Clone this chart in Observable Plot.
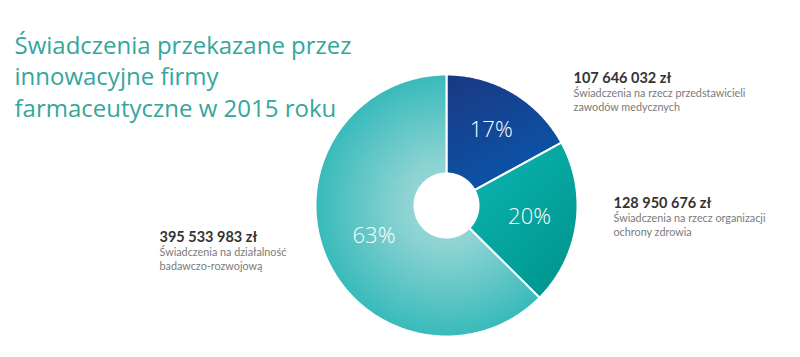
<!DOCTYPE html>
<html><head><meta charset="utf-8">
<script src="https://cdn.jsdelivr.net/npm/d3@7"></script>
<script src="https://cdn.jsdelivr.net/npm/@observablehq/plot@0.6"></script>
<style>body{margin:0;background:#fff;} svg{display:block}</style>
</head><body><div id="chart"></div>
<script>
// ---- data ----
const categories = [
  "Świadczenia na rzecz przedstawicieli zawodów medycznych",
  "Świadczenia na rzecz organizacji ochrony zdrowia",
  "Świadczenia na działalność badawczo-rozwojową"
];
const values = [107646032, 128950676, 395533983];
const amountLabels = ["107 646 032 zł", "128 950 676 zł", "395 533 983 zł"];
const descLines = [
  ["Świadczenia na rzecz przedstawicieli", "zawodów medycznych"],
  ["Świadczenia na rzecz organizacji", "ochrony zdrowia"],
  ["Świadczenia na działalność", "badawczo-rozwojową"]
];
const titleLines = ["Świadczenia przekazane przez", "innowacyjne firmy", "farmaceutyczne w 2015 roku"];

// ---- layout / style ----
const W = 800, H = 357, CX = 446, CY = 205, R = 131, R0 = 32;
const inner = R0 / R;
const labelPos = [[573, 82], [613, 207], [159, 241]]; // amount baselines
const gradIds = ["gBlue", "gTeal", "gLight"];
const titleColor = "#35a69c";
const titleSize = 24;
const amountSize = 14.5;
const descSize = 10.8;

const total = d3.sum(values);
const arcs = d3.pie().sort(null)(values);
const polys = [];
arcs.forEach((a, i) => {
  const n = Math.max(8, Math.ceil((a.endAngle - a.startAngle) / 0.01));
  const pts = [];
  for (let k = 0; k <= n; k++) {
    const t = a.startAngle + (a.endAngle - a.startAngle) * k / n;
    pts.push({i, x: Math.sin(t), y: Math.cos(t)});
  }
  for (let k = n; k >= 0; k--) {
    const t = a.startAngle + (a.endAngle - a.startAngle) * k / n;
    pts.push({i, x: inner * Math.sin(t), y: inner * Math.cos(t)});
  }
  polys.push(pts);
});
const pctRadius = [0.67, 0.64, 0.6];
const pctLabels = arcs.map((a, i) => {
  const m = (a.startAngle + a.endAngle) / 2;
  return {x: pctRadius[i] * Math.sin(m), y: pctRadius[i] * Math.cos(m), text: Math.round(values[i] / total * 100) + "%"};
});

const defs = () => {
  const g = d3.create("svg:defs");
  const lb = g.append("linearGradient").attr("id", "gBlue").attr("x1", 0).attr("y1", 0).attr("x2", 0.5).attr("y2", 1);
  lb.append("stop").attr("offset", "0%").attr("stop-color", "#1b3883");
  lb.append("stop").attr("offset", "100%").attr("stop-color", "#0a55a9");
  const lt = g.append("linearGradient").attr("id", "gTeal").attr("x1", 0).attr("y1", 0).attr("x2", 0.8).attr("y2", 1);
  lt.append("stop").attr("offset", "0%").attr("stop-color", "#0cb6b1");
  lt.append("stop").attr("offset", "100%").attr("stop-color", "#00958e");
  const rl = g.append("radialGradient").attr("id", "gLight").attr("gradientUnits", "userSpaceOnUse")
    .attr("cx", CX).attr("cy", CY).attr("r", R);
  rl.append("stop").attr("offset", "0%").attr("stop-color", "#a4dcdc");
  rl.append("stop").attr("offset", "35%").attr("stop-color", "#8ad2d2");
  rl.append("stop").attr("offset", "100%").attr("stop-color", "#38baba");
  return g.node();
};

const textMarks = [];
titleLines.forEach((t, k) => {
  textMarks.push(Plot.text([t], {frameAnchor: "top-left", dx: 14, dy: 53 + k * 31.5 - 0.71 * titleSize, lineAnchor: "top",
    text: d => d, fill: titleColor, fontSize: titleSize, fontFamily: "Open Sans", textAnchor: "start"}));
});
amountLabels.forEach((t, i) => {
  const [lx, ly] = labelPos[i];
  textMarks.push(Plot.text([t], {frameAnchor: "top-left", dx: lx, dy: ly - 0.71 * amountSize, lineAnchor: "top",
    text: d => d, fill: "#333", fontSize: amountSize, fontWeight: "bold", fontFamily: "Lato", textAnchor: "start"}));
  descLines[i].forEach((s, k) => {
    textMarks.push(Plot.text([s], {frameAnchor: "top-left", dx: lx, dy: ly + 14 + k * 14 - 0.71 * descSize, lineAnchor: "top",
      text: d => d, fill: "#7a7a7a", fontSize: descSize, fontFamily: "Lato", textAnchor: "start"}));
  });
});

const chart = Plot.plot({
  width: W, height: H,
  marginTop: 0, marginRight: 0, marginBottom: 0, marginLeft: 0,
  x: {domain: [-CX / R, (W - CX) / R], range: [0, W], axis: null},
  y: {domain: [-(H - CY) / R, CY / R], range: [H, 0], axis: null},
  style: {background: "#fff", overflow: "visible"},
  marks: [
    defs,
    ...polys.map((p, i) => Plot.line(p, {x: "x", y: "y", curve: "linear-closed",
      fill: `url(#${gradIds[i]})`, stroke: "white", strokeWidth: 2})),
    Plot.text(pctLabels, {x: "x", y: "y", text: "text", fill: "white", fontSize: 22,
      fontFamily: "Open Sans", fontWeight: 300}),
    ...textMarks
  ]
});
document.getElementById("chart").appendChild(chart);
</script></body></html>
